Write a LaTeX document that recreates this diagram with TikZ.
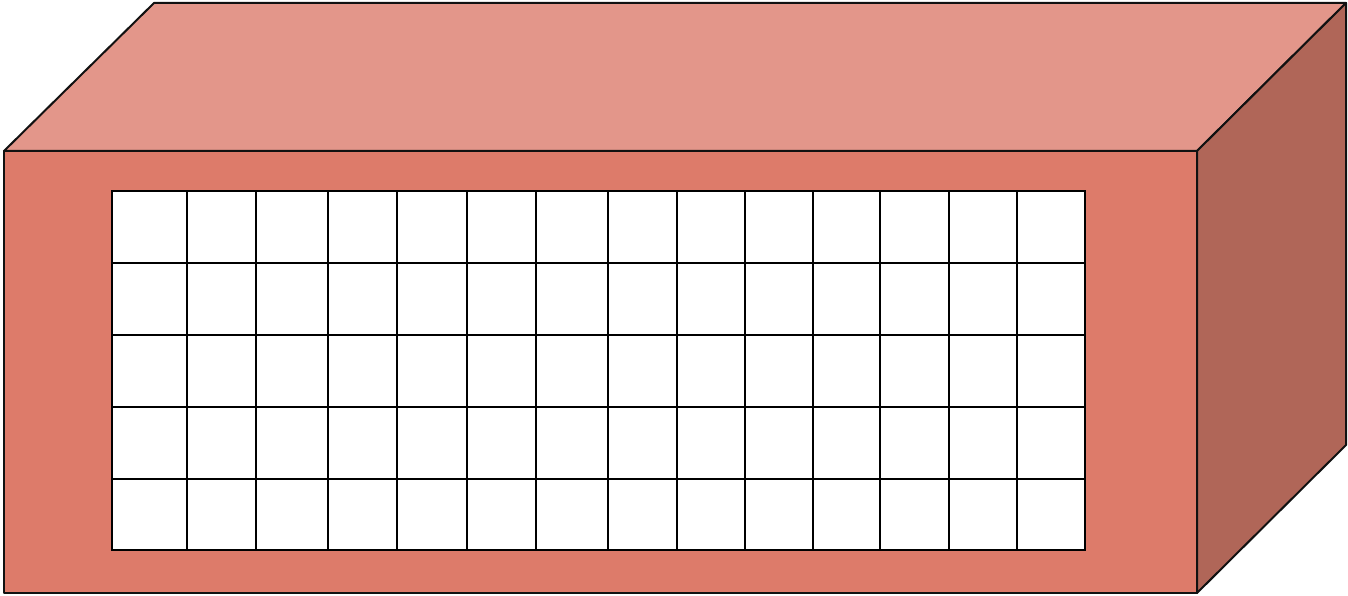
\documentclass[tikz,border=0pt]{standalone}
\usepackage{xcolor}
\usepackage{tikz}
\definecolor{fg}{HTML}{111111}
\definecolor{boxfront}{HTML}{DD7B6A}
\definecolor{boxtop}{HTML}{E3968A}
\definecolor{boxside}{HTML}{B06658}
\tikzset{face/.style={draw=fg,line width=2pt,line join=round},
  cellline/.style={draw=black,line width=2.6pt}}

\begin{document}
\begin{tikzpicture}[x=1pt,y=-1pt]
  \useasboundingbox (0,0) rectangle (1348,596);
  % box faces
  \filldraw[face,fill=boxtop] (4,151) -- (154,3) -- (1346,3) -- (1197,151) -- cycle;
  \filldraw[face,fill=boxside] (1197,151) -- (1346,3) -- (1346,445) -- (1197,593) -- cycle;
  \filldraw[face,fill=boxfront] (4,151) rectangle (1197,593);
  % grid of cells
  \filldraw[cellline,fill=white] (112,191) rectangle (1085,550);
  \foreach \x in {187,256,328,397,467,536,608,677,745,813,880,949,1017}
    \draw[cellline] (\x,191) -- (\x,550);
  \foreach \y in {263,335,407,479}
    \draw[cellline] (112,\y) -- (1085,\y);
\end{tikzpicture}
\end{document}
